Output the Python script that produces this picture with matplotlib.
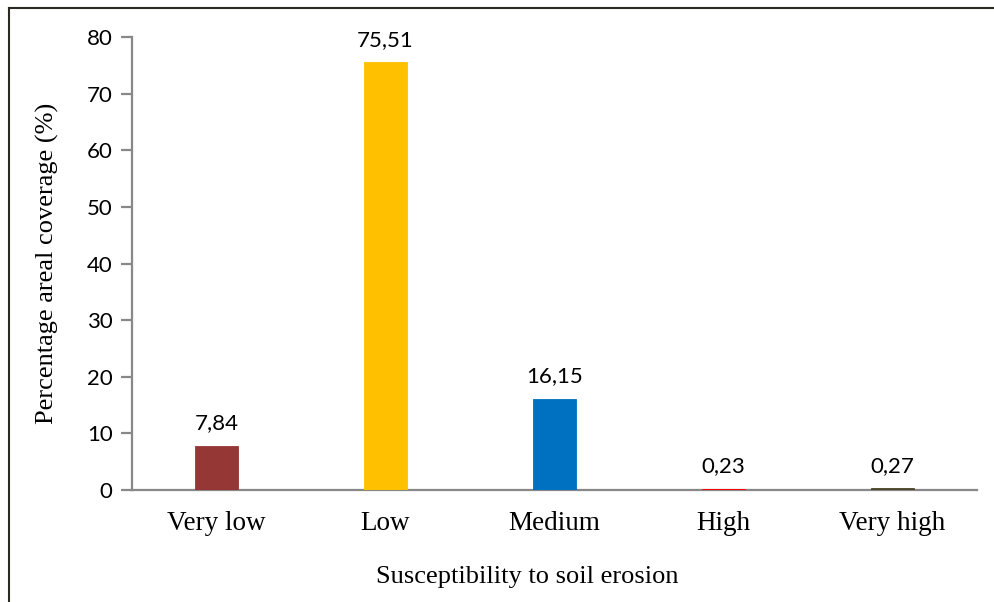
import matplotlib.pyplot as plt
from matplotlib.lines import Line2D

categories = ["Very low", "Low", "Medium", "High", "Very high"]
values = [7.84, 75.51, 16.15, 0.23, 0.27]
labels = ["7,84", "75,51", "16,15", "0,23", "0,27"]
colors = ["#953735", "#FFC000", "#0070C0", "#FF0000", "#4A4528"]
yticks = [0, 10, 20, 30, 40, 50, 60, 70, 80]

W, H = 994, 602
fig = plt.figure(figsize=(W / 100, H / 100), dpi=100)
ax = fig.add_axes([132 / W, 1 - 490 / H, (977 - 132) / W, (490 - 37) / H])

x = range(len(categories))
# bars go on top of the axis line so the tiny High / Very high bars still show
ax.bar(x, values, width=0.255, color=colors, edgecolor=colors, linewidth=0.6, zorder=3)
for xi, v, lab in zip(x, values, labels):
    ax.annotate(lab, (xi, v), xytext=(0, 9), textcoords="offset points",
                ha="center", va="bottom", fontsize=16, family="Lato")

ax.set_xlim(-0.5, 4.5)
ax.set_ylim(0, 80)
ax.set_yticks(yticks)
ax.set_yticklabels([str(t) for t in yticks], fontsize=16, family="Lato")
ax.set_xticks(list(x))
ax.set_xticklabels(categories, fontsize=19.5, family="Liberation Serif")
ax.tick_params(axis="y", length=8, width=1.6, color="#888888", direction="out", pad=6)
ax.tick_params(axis="x", length=0, pad=15)

for s in ["top", "right"]:
    ax.spines[s].set_visible(False)
for s in ["left", "bottom"]:
    ax.spines[s].set_color("#888888")
    ax.spines[s].set_linewidth(1.6)

ax.set_ylabel("Percentage areal coverage (%)", fontsize=19, family="Liberation Serif", labelpad=20)
ax.set_xlabel("Susceptibility to soil erosion", fontsize=19, family="Liberation Serif")
ax.xaxis.label.set_va("center")
ax.xaxis.set_label_coords((527 - 132) / 845, -(577 - 490) / 453)

# outer frame lines (left and top only)
fig.add_artist(Line2D([8.5 / W, 8.5 / W], [0, 1 - 7.5 / H], transform=fig.transFigure,
                      color="#2b2a22", lw=1.5))
fig.add_artist(Line2D([8.5 / W, 1], [1 - 7.5 / H, 1 - 7.5 / H], transform=fig.transFigure,
                      color="#2b2a22", lw=1.5))

fig.savefig("out.png", dpi=100)
